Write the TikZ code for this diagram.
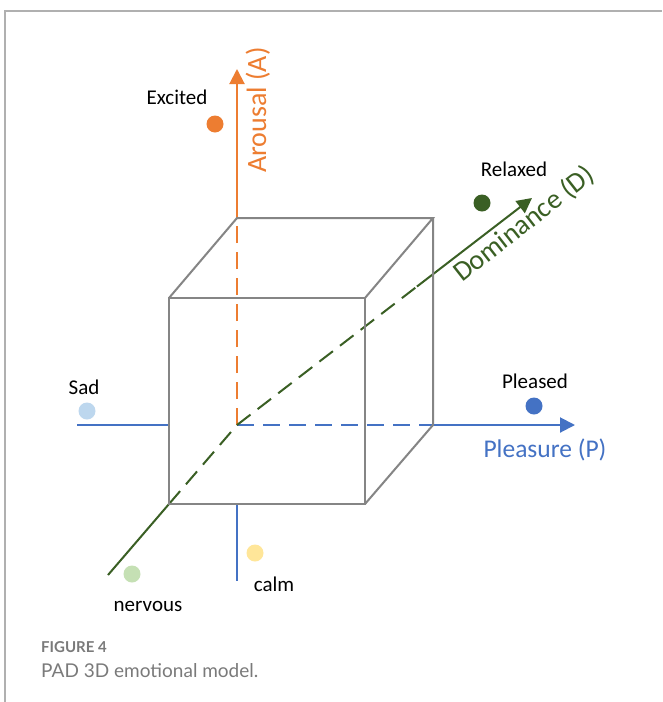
\documentclass[tikz,border=0pt]{standalone}
\usepackage{fontspec}
\setmainfont{Carlito}
\newfontfamily\capfont{Lato}
\usetikzlibrary{arrows.meta,calc}

\definecolor{axorange}{HTML}{ED7D31}
\definecolor{axblue}{HTML}{4472C4}
\definecolor{axgreen}{HTML}{3A5F24}
\definecolor{cubegrey}{HTML}{858585}
\definecolor{framegrey}{HTML}{B0B0B0}
\definecolor{sadblue}{HTML}{BDD7EE}
\definecolor{nervgreen}{HTML}{C5E0B4}
\definecolor{calmyellow}{HTML}{FFE699}
\definecolor{capgrey}{HTML}{7A7A7A}

\tikzset{
  cubeedge/.style={draw=cubegrey, line width=2pt},
  axisline/.style={line width=2pt},
  hiddenaxis/.style={line width=2pt, dash pattern=on 17pt off 9pt},
  axisarrow/.style={line width=2pt, -{Triangle[length=15pt,width=15pt]}},
  emodot/.style={circle, inner sep=0pt, minimum size=17pt},
  emolabel/.style={font=\fontsize{21}{24}\selectfont, text=black, anchor=base, inner sep=0pt},
  axislabel/.style={font=\fontsize{#1}{30}\selectfont, inner sep=0pt},
}

\begin{document}
\begin{tikzpicture}[x=1pt, y=-1pt]
  \useasboundingbox (0,0) rectangle (662,702);
  \fill[white] (0,0) rectangle (662,702);

  % page frame
  \draw[framegrey, line width=1.5pt] (5,702) -- (5,11) -- (662,11);

  % cube corners
  \coordinate (O)   at (237,425);
  \coordinate (BBR) at (433,425);
  \coordinate (BTR) at (433,218);
  \coordinate (BTL) at (237,218);
  \coordinate (FBL) at (169,504);
  \coordinate (FBR) at (365,504);
  \coordinate (FTR) at (365,298);
  \coordinate (FTL) at (169,298);

  % axis ends
  \coordinate (Atip) at (237,69);
  \coordinate (Ptip) at (575,425);
  \coordinate (Pneg) at (77,425);
  \coordinate (Pin)  at (169,425);
  \coordinate (Dtip) at (532,198);
  \coordinate (Dneg) at (108,575);
  \coordinate (Aneg) at (237,581);
  \coordinate (Ain)  at (237,504);
  \coordinate (Dbrk) at ($(O)!0.61!(Dtip)$);

  % arousal axis
  \draw[hiddenaxis, axorange] (O) -- (BTL);
  \draw[axisarrow, axorange] (BTL) -- (Atip);
  \draw[axisline, axblue] (Ain) -- (Aneg);

  % pleasure axis
  \draw[axisline, axblue] (Pneg) -- (Pin);
  \draw[hiddenaxis, axblue] (O) -- (BBR);
  \draw[axisarrow, axblue] (BBR) -- (Ptip);

  % dominance axis
  \draw[axisline, axgreen] (Dneg) -- (FBL);
  \draw[hiddenaxis, axgreen] (FBL) -- (O);
  \draw[hiddenaxis, axgreen] (O) -- (Dbrk);
  \draw[axisarrow, axgreen] (Dbrk) -- (Dtip);

  % visible cube edges
  \draw[cubeedge] (FBL) -- (FBR) -- (FTR) -- (FTL) -- cycle;
  \draw[cubeedge] (FTL) -- (BTL) -- (BTR) -- (FTR);
  \draw[cubeedge] (BTR) -- (BBR) -- (FBR);

  % axis labels
  \node[axislabel=28, text=axorange, rotate=90, anchor=base] (la) at (266,110) {Arousal (A)};
  \node[axislabel=25.5, text=axblue, anchor=base] (lp) at (545,457) {Pleasure (P)};
  \node[axislabel=28, text=axgreen, rotate=38] (ld) at (524,224) {Dominance (D)};

  % emotions
  \node[emodot, fill=axorange]   (excited) at (215,124) {};
  \node[emodot, fill=axgreen]    (relaxed) at (482,203) {};
  \node[emodot, fill=sadblue]    (sad)     at (87,411)  {};
  \node[emodot, fill=axblue]     (pleased) at (534,406) {};
  \node[emodot, fill=nervgreen]  (nervous) at (132,574) {};
  \node[emodot, fill=calmyellow] (calm)    at (255,553) {};

  \node[emolabel] (texc) at (177,104) {Excited};
  \node[emolabel] (trel) at (514,176) {Relaxed};
  \node[emolabel] (tsad) at (84,394)  {Sad};
  \node[emolabel] (tple) at (535,388) {Pleased};
  \node[emolabel] (tner) at (148,611) {nervous};
  \node[emolabel] (tcal) at (274,591) {calm};

  % caption
  \node[anchor=base west, inner sep=0pt, text=capgrey,
        font=\capfont\bfseries\fontsize{15}{18}\selectfont] (fig) at (41,652) {FIGURE 4};
  \node[anchor=base west, inner sep=0pt, text=capgrey,
        font=\capfont\fontsize{19}{22}\selectfont] (cap) at (41,677) {PAD 3D emotional model.};
\end{tikzpicture}
\end{document}
